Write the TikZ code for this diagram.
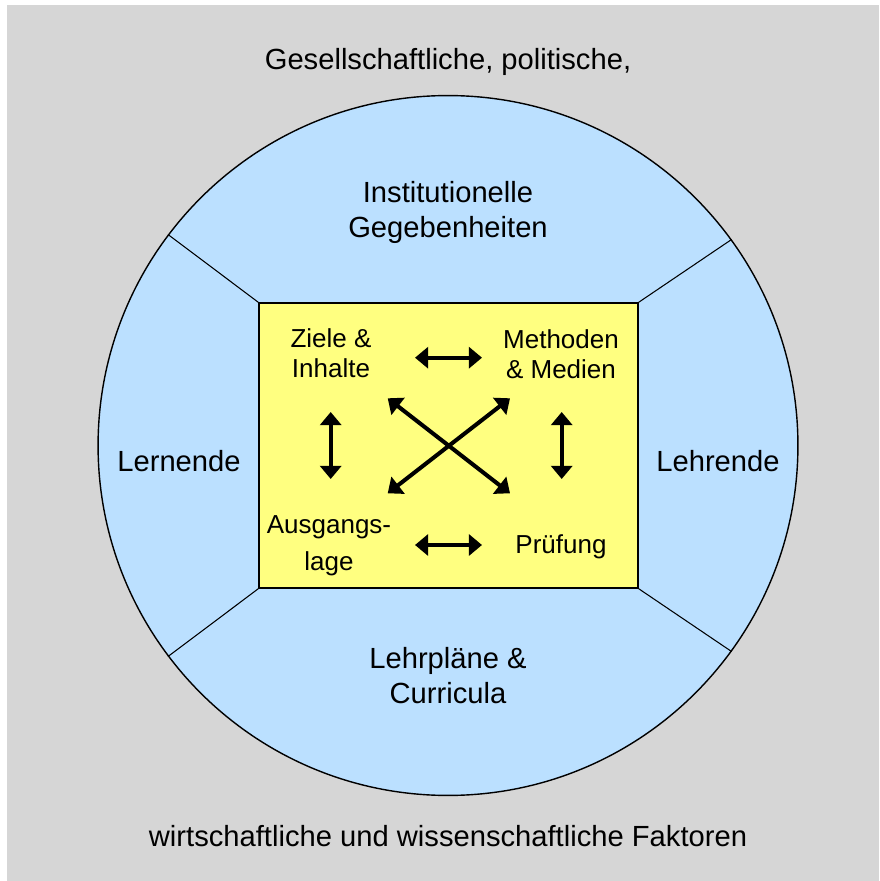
\documentclass[tikz,border=0pt]{standalone}
\usepackage{fontspec}
\setmainfont{Liberation Sans}
\usetikzlibrary{arrows.meta}
\definecolor{bggray}{RGB}{214,214,214}
\definecolor{ringblue}{RGB}{187,224,255}
\definecolor{coreyellow}{RGB}{255,255,128}
\begin{document}
\begin{tikzpicture}[x=0.02cm,y=-0.02cm,
  outertext/.style={align=center,inner sep=0pt,font=\fontsize{16.6}{19.9}\selectfont},
  innertext/.style={align=center,inner sep=0pt,font=\fontsize{14.8}{17.2}\selectfont},
  ring/.style={circle,draw=black,line width=0.8pt,fill=ringblue,minimum size=14cm,inner sep=0pt},
  corebox/.style={rectangle,draw=black,line width=0.9pt,fill=coreyellow,minimum width=7.58cm,minimum height=5.7cm,inner sep=0pt},
  spoke/.style={draw=black,line width=0.6pt},
  link/.style={line width=2.3pt,{Triangle[length=7.5pt,width=12pt]}-{Triangle[length=7.5pt,width=12pt]}}
]
\useasboundingbox (0,0) rectangle (879,881);
\fill[bggray] (7,5) rectangle (879,881);

% outer ring and core box
\node[ring] (circ) at (448,445.5) {};
\node[corebox] (box) at (448.5,445.5) {};

% spokes from the box corners out to the ring
\draw[spoke] (box.north west) -- (circ.143.06);
\draw[spoke] (box.north east) -- (circ.36.94);
\draw[spoke] (box.south east) -- (circ.-36.94);
\draw[spoke] (box.south west) -- (circ.-143.06);

% outer labels
\node[outertext] (top) at (448,62) {Gesellschaftliche, politische,};
\node[outertext] (bot) at (448,836) {wirtschaftliche und wissenschaftliche Faktoren};
\node[outertext] (inst) at (448,212) {Institutionelle\\Gegebenheiten};
\node[outertext] (lern) at (179,461) {Lernende};
\node[outertext] (lehr) at (718,461) {Lehrende};
\node[outertext] (plan) at (448,676) {Lehrpläne \&\\Curricula};

% core labels
\node[innertext] (ziele) at (331,353) {Ziele \&\\Inhalte};
\node[innertext] (meth) at (561,354) {Methoden\\\& Medien};
\node[innertext,font=\fontsize{14.8}{21.2}\selectfont] (ausg) at (329,546) {Ausgangs-\\lage};
\node[innertext] (pruef) at (561,546.5) {Prüfung};

% arrow end points
\coordinate (a1) at (415,357.7);   \coordinate (a2) at (482,357.7);
\coordinate (b1) at (415,545);     \coordinate (b2) at (482,545);
\coordinate (c1) at (330.7,412);   \coordinate (c2) at (330.7,479);
\coordinate (d1) at (561.7,412);   \coordinate (d2) at (561.7,479);
\coordinate (e1) at (387.7,398.3); \coordinate (e2) at (510,493.3);
\coordinate (f1) at (510,398.3);   \coordinate (f2) at (387.7,493.3);

\draw[link] (a1) -- (a2);
\draw[link] (b1) -- (b2);
\draw[link] (c1) -- (c2);
\draw[link] (d1) -- (d2);
\draw[link] (e1) -- (e2);
\draw[link] (f1) -- (f2);
\end{tikzpicture}
\end{document}
